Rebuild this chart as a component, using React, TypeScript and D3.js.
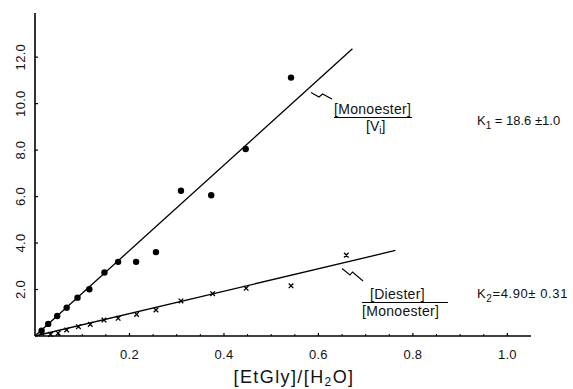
import React from 'react';
import * as d3 from 'd3';

// [Monoester]/[Vi] points (filled circles)
const monoX = [0.014, 0.028, 0.047, 0.067, 0.090, 0.115, 0.147, 0.176, 0.214, 0.256, 0.309, 0.373, 0.446, 0.542];
const monoY = [0.23, 0.52, 0.86, 1.22, 1.65, 2.01, 2.73, 3.19, 3.19, 3.61, 6.25, 6.06, 8.05, 11.12];

// [Diester]/[Monoester] points (crosses)
const diX = [0.014, 0.033, 0.049, 0.067, 0.092, 0.117, 0.146, 0.176, 0.215, 0.256, 0.309, 0.376, 0.447, 0.542, 0.659];
const diY = [0.12, 0.07, 0.12, 0.26, 0.40, 0.50, 0.69, 0.76, 0.93, 1.12, 1.51, 1.82, 2.05, 2.16, 3.48];

// fitted straight lines (endpoints)
const monoFit = [[0, 0], [0.672, 12.36]];
const diFit = [[0, 0], [0.763, 3.68]];

const xTicks = [0.2, 0.4, 0.6, 0.8, 1.0];
const xMinor = [0.05, 0.1, 0.15, 0.25, 0.3, 0.35, 0.45, 0.5, 0.55, 0.65, 0.7, 0.75, 0.85, 0.9, 0.95];
const yTicks = [2, 4, 6, 8, 10, 12];

const W = 573;
const H = 389;
const FONT = '"Liberation Sans", Arial, sans-serif';

export default function App() {
  const x = d3.scaleLinear().domain([0, 1.05]).range([35, 531]);
  const y = d3.scaleLinear().domain([0, 13.9]).range([336, 13]);
  const line = d3.line<number[]>().x(d => x(d[0])).y(d => y(d[1]));

  return (
    <div style={{ position: 'absolute', left: 0, top: 0 }}>
      <svg width={W} height={H} style={{ display: 'block', background: '#fff' }} fontFamily={FONT}>
        {/* axes */}
        <line x1={x(0)} x2={x(0)} y1={y(13.9)} y2={y(0)} stroke="#000" strokeWidth={1.6} />
        <line x1={x(0)} x2={x(1.05)} y1={y(0)} y2={y(0)} stroke="#000" strokeWidth={1.4} />
        {yTicks.map(t => (
          <g key={'y' + t}>
            <line x1={x(0)} x2={x(0) + 3} y1={y(t)} y2={y(t)} stroke="#000" strokeWidth={1.2} />
            <text transform={`translate(25,${y(t)}) rotate(-90)`} textAnchor="middle" fontSize={13} letterSpacing={0.3} fill="#111">
              {t.toFixed(1)}
            </text>
          </g>
        ))}
        {xTicks.map(t => (
          <g key={'x' + t}>
            <line x1={x(t)} x2={x(t)} y1={y(0)} y2={y(0) - 3} stroke="#000" strokeWidth={1.2} />
            <text x={x(t)} y={359} textAnchor="middle" fontSize={13} letterSpacing={0.3} fill="#111">{t.toFixed(1)}</text>
          </g>
        ))}
        {xMinor.map(t => (
          <line key={'m' + t} x1={x(t)} x2={x(t)} y1={y(0)} y2={y(0) - 2} stroke="#000" strokeWidth={1} />
        ))}

        {/* fitted lines */}
        <path d={line(monoFit) || ''} fill="none" stroke="#000" strokeWidth={1.3} />
        <path d={line(diFit) || ''} fill="none" stroke="#000" strokeWidth={1.3} />

        {/* points */}
        {monoX.map((v, i) => (
          <circle key={'c' + i} cx={x(v)} cy={y(monoY[i])} r={3.2} fill="#000" />
        ))}
        {diX.map((v, i) => {
          const cx = x(v);
          const cy = y(diY[i]);
          const s = 2.3;
          return (
            <path key={'d' + i} d={`M${cx - s},${cy - s}L${cx + s},${cy + s}M${cx - s},${cy + s}L${cx + s},${cy - s}`}
              stroke="#000" strokeWidth={1.3} />
          );
        })}

        {/* monoester annotation */}
        <path d="M311,92.5 L319,97 L322.5,94 L332,99" fill="none" stroke="#000" strokeWidth={1.1} />
        <text x={334} y={114} fontSize={14} letterSpacing={0.3} fill="#111">[Monoester]</text>
        <line x1={334} x2={412} y1={117.5} y2={117.5} stroke="#000" strokeWidth={1} />
        <text x={366} y={131} fontSize={14} fill="#111">[V<tspan fontSize={10} dy={3}>i</tspan><tspan dy={-3}>]</tspan></text>
        <text x={477} y={125} fontSize={13} fill="#111">K<tspan fontSize={10} dy={4}>1</tspan><tspan dy={-4}> = 18.6 ±1.0</tspan></text>

        {/* diester annotation */}
        <path d="M342,268.5 L350,275 L352.5,272 L363,281" fill="none" stroke="#000" strokeWidth={1.1} />
        <text x={370} y={299} fontSize={14} letterSpacing={0.3} fill="#111">[Diester]</text>
        <line x1={362} x2={448} y1={302.5} y2={302.5} stroke="#000" strokeWidth={1} />
        <text x={362} y={316} fontSize={14} letterSpacing={0.3} fill="#111">[Monoester]</text>
        <text x={477} y={298} fontSize={13} letterSpacing={0.6} fill="#111">K<tspan fontSize={10} dy={4}>2</tspan><tspan dy={-4}>=4.90± 0.31</tspan></text>

        {/* x axis title */}
        <text x={294} y={383} textAnchor="middle" fontSize={18} letterSpacing={1.4} fill="#111">
          [EtGly]/[H<tspan fontSize={12} dy={3}>2</tspan><tspan dy={-3}>O]</tspan>
        </text>
      </svg>
    </div>
  );
}
